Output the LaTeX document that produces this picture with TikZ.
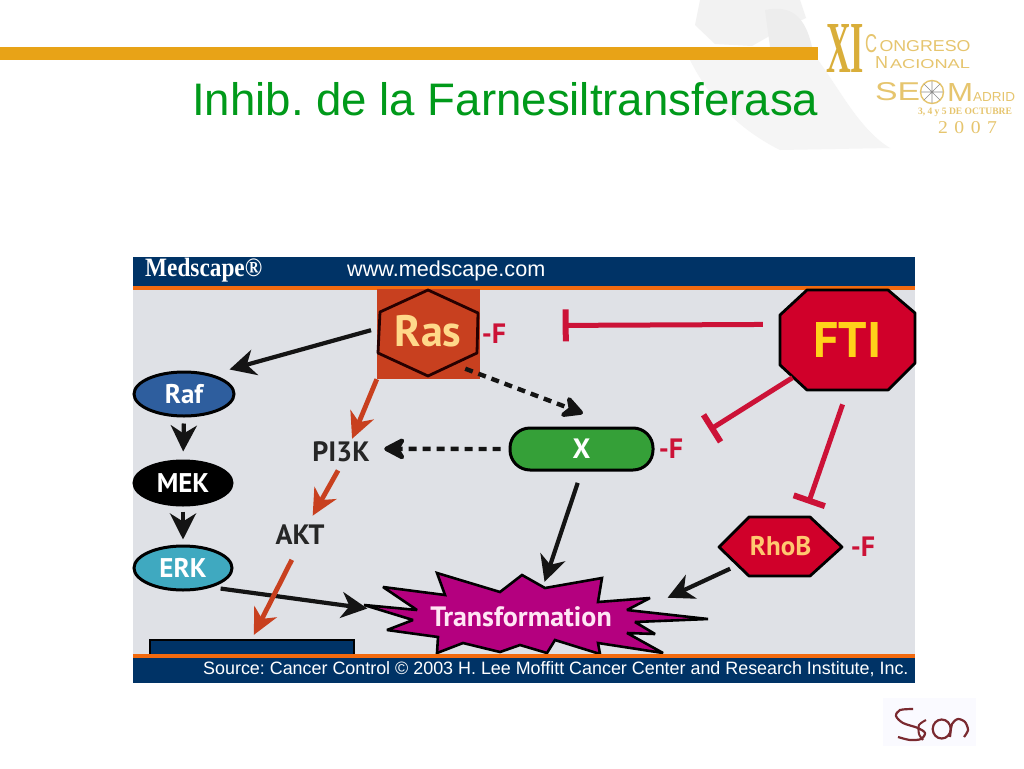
\documentclass[tikz,border=0pt]{standalone}
\usepackage{fontspec}
\usepackage{graphicx}
\setmainfont{Liberation Sans}
\newfontfamily\ptb{PT Sans}[BoldFont=* Bold]
\newfontfamily\serifb{Liberation Serif}
\usetikzlibrary{arrows.meta,shapes.geometric}
\definecolor{panelbg}{HTML}{DFE1E6}
\definecolor{navy}{HTML}{003366}
\definecolor{stripe}{HTML}{F26A0F}
\definecolor{rasred}{HTML}{C8401F}
\definecolor{inhred}{HTML}{CC1237}
\definecolor{stopred}{HTML}{D0002A}
\definecolor{rafblue}{HTML}{2E5E9E}
\definecolor{erkblue}{HTML}{3FA9C0}
\definecolor{xgreen}{HTML}{35A038}
\definecolor{magent}{HTML}{B4007F}
\definecolor{titlegreen}{HTML}{009A1A}
\definecolor{barorange}{HTML}{E8A317}
\definecolor{gold}{HTML}{E6C56E}
\definecolor{golddark}{HTML}{D9AE3A}
\definecolor{logored}{HTML}{7A2A30}
\definecolor{rastext}{HTML}{FFD98A}
\definecolor{rhotext}{HTML}{FFC870}
\definecolor{ftitext}{HTML}{FFD21A}
\definecolor{transtext}{HTML}{FFE6F4}
\newcommand{\fsz}[1]{\fontsize{#1}{#1}\selectfont}
\tikzset{
  lab/.style={inner sep=0pt,font=\ptb\bfseries\fsz{28}},
  ell/.style={ellipse,draw=black,line width=3pt,inner sep=0pt,minimum width=#1,minimum height=44pt,font=\ptb\bfseries\fsz{27},text=white},
  poly/.style={draw=black,line width=2.8pt,line join=round},
  blk/.style={draw=black!92,line width=4.2pt,-{Stealth[length=26pt,width=26pt,inset=8pt]}},
  blkdash/.style={draw=black!92,line width=4.4pt,dash pattern=on 8pt off 6pt,-{Stealth[length=26pt,width=27pt,inset=8pt,round]}},
  redarr/.style={draw=rasred,line width=4.8pt,-{Stealth[length=26pt,width=25pt,inset=8pt]}},
  inh/.style={draw=inhred,line width=5pt,-{Bar[width=#1,line width=6pt]}},
  minus/.style={inner sep=0pt,font=\ptb\bfseries\fsz{28},text=inhred},
}
\begin{document}
\begin{tikzpicture}[x=1pt,y=-1pt]
\frenchspacing
\useasboundingbox (0,0) rectangle (1024,768);
\fill[white] (0,0) rectangle (1024,768);
% faint header artwork
\fill[black!5] (700,0) -- (800,0) -- (806,18) -- (780,30) -- (752,46) -- (715,44) -- (695,25) -- cycle;
\fill[black!7] (765,10) .. controls (790,5) and (805,15) .. (812,47) -- (770,47) -- cycle;
\fill[black!4] (690,60) -- (818,60) .. controls (840,90) and (860,130) .. (890,148) -- (780,150) .. controls (740,130) and (710,100) .. cycle;
\fill[barorange] (0,47) rectangle (818,60);
\node[anchor=base west,inner sep=0pt,text=titlegreen,font=\fsz{45.6}] (title) at (192,115) {Inhib. de la Farnesiltransferasa};
% congress logo
\node[inner sep=0pt,text=golddark] (xi) at (845,48) {\resizebox{38pt}{48pt}{\serifb\bfseries XI}};
\node[inner sep=0pt,text=gold] (lc) at (871,44) {\resizebox{12pt}{18pt}{C}};
\node[inner sep=0pt,text=gold] (l1) at (925,46.5) {\resizebox{91pt}{11pt}{ONGRESO}};
\node[inner sep=0pt,text=gold] (ln) at (881.5,63) {\resizebox{13pt}{12pt}{N}};
\node[inner sep=0pt,text=gold] (l2) at (930,64.5) {\resizebox{80pt}{9pt}{ACIONAL}};
\node[inner sep=0pt,text=gold] (l3) at (897.5,92) {\resizebox{45pt}{18pt}{SE}};
\draw[gold,line width=1.4pt] (932,92) circle (11.5);
\draw[black!45,line width=.6pt] (921,92) -- (943,92) (932,81) -- (932,103) (924,84) -- (940,100) (924,100) -- (940,84);
\node[inner sep=0pt,text=gold] (l4) at (960,92) {\resizebox{26pt}{18pt}{M}};
\node[inner sep=0pt,text=gold] (l5) at (994,96.5) {\resizebox{42pt}{9pt}{ADRID}};
\node[inner sep=0pt,text=gold] (l6) at (965,112) {\resizebox{94pt}{6.5pt}{\serifb\bfseries 3, 4 y 5 DE OCTUBRE}};
\node[inner sep=0pt,text=gold] (l7) at (967.5,128) {\resizebox{59pt}{12pt}{\serifb 2\,\,0\,\,0\,\,7}};
% panel
\fill[panelbg] (133,257) rectangle (915,683);
\fill[navy] (133,257) rectangle (915,286);
\fill[stripe] (133,286) rectangle (915,289.5);
\node[inner sep=0pt,text=white,anchor=west] (med) at (145,270.5) {\resizebox*{117pt}{24pt}{\serifb\bfseries Medscape\textregistered}};
\node[inner sep=0pt,text=white,anchor=west,font=\fsz{21.6}] (www) at (347,271) {www.medscape.com};
% shapes
\node[fill=navy,draw=black,line width=2pt,minimum width=204pt,minimum height=15pt,inner sep=0pt] (boxn) at (252,647) {};
\node[fill=rasred,minimum width=103pt,minimum height=90pt,inner sep=0pt] (ras) at (428.5,334) {};
\draw[poly,fill=rasred,draw=black!85!red] (428,290) -- (478,313) -- (477,353) -- (428,376) -- (378,353) -- (380,312) -- cycle;
\node[lab,text=rastext,font=\ptb\bfseries\fsz{44}] (rastxt) at (428,331) {Ras};
\node[minus] (rasf) at (494,334) {-F};
\draw[poly,fill=stopred] (807,290) -- (888,290) -- (915,313) -- (915,363) -- (888,390) -- (807,390) -- (780,365) -- (780,315) -- cycle;
\node[minimum width=135pt,minimum height=100pt,inner sep=0pt,text=ftitext,font=\ptb\bfseries\fsz{50}] (fti) at (847.5,340) {\raisebox{-2.5pt}{FTI}};
\draw[poly,fill=stopred] (719,547) -- (749,517) -- (810,517) -- (842,547) -- (810,576) -- (749,576) -- cycle;
\node[minimum width=123pt,minimum height=59pt,inner sep=0pt,text=rhotext,font=\ptb\bfseries\fsz{27}] (rhob) at (780.5,546.5) {RhoB};
\node[minus] (rhobf) at (863,547) {-F};
\node[rectangle,draw=black,line width=3pt,fill=xgreen,rounded corners=20pt,minimum width=143pt,minimum height=42pt,inner sep=0pt,text=white,font=\ptb\bfseries\fsz{28}] (xn) at (581.5,449) {X};
\node[minus] (xf) at (671,449) {-F};
\node[ell=100pt,fill=rafblue] (raf) at (184,394) {Raf};
\node[ell=98pt,fill=black] (mek) at (183,483) {MEK};
\node[ell=98pt,fill=erkblue] (erk) at (183,568) {ERK};
\node[lab,minimum width=60pt,minimum height=26pt,text=black!85] (pi3k) at (341,452) {PI3K};
\node[lab,minimum width=50pt,minimum height=26pt,text=black!85] (akt) at (300,535) {AKT};
% star
\draw[poly,fill=magent,line width=2.6pt,line join=miter,miter limit=3] (364,605) -- (417,610) -- (383,587) -- (445,595) -- (437,573) -- (500,592) -- (522,575) -- (545,588) -- (602,578) -- (598,602) -- (650,598) -- (627,610) -- (708,619) -- (635,622) -- (655,634) -- (627,633) -- (663,653) -- (598,643) -- (600,654) -- (555,640) -- (547,653) -- (520,645) -- (500,652) -- (463,643) -- (437,653) -- (438,637) -- (387,630) -- (413,620) -- cycle;
\node[minimum width=182pt,minimum height=30pt,inner sep=0pt,text=transtext,font=\ptb\bfseries\fsz{28}] (trans) at (521,617) {Transformation};
% footer
\fill[stripe] (133,654) rectangle (915,657.5);
\fill[navy] (133,657.5) rectangle (915,683);
\node[inner sep=0pt,text=white,anchor=west,font=\fsz{17.9}] (src) at (203,669.5) {Source: Cancer Control © 2003 H. Lee Moffitt Cancer Center and Research Institute, Inc.};
% connectors
\draw[blk,shorten <=6pt,shorten >=18pt] (ras.174) -- (raf.35);
\draw[blk,shorten <=6pt,shorten >=8pt] (raf.south) -- (mek.north);
\draw[blk,shorten <=5pt,shorten >=5pt] (mek.south) -- (erk.north);
\draw[blk,shorten <=9pt,shorten >=63pt] (erk.-34) -- (trans.west);
\draw[redarr] (ras.south west) -- (pi3k.50);
\draw[blkdash,shorten <=8pt,shorten >=13pt] (xn.west) -- (pi3k.6);
\draw[blkdash,shorten <=-16pt,shorten >=37pt] (ras.-38) -- (xn.32);
\draw[blk,shorten <=12pt,shorten >=21pt] (xn.south) -- (trans.42);
\draw[blk,shorten <=-12.5pt,shorten >=61pt] (rhob.204) -- (trans.-4.4);
\draw[redarr,shorten <=6pt,shorten >=7pt] (pi3k.south) -- (akt.55);
\draw[redarr,shorten <=13pt,shorten >=4pt] (akt.-100) -- (boxn.north);
\draw[inh=32pt,shorten <=17pt,shorten >=82.5pt] (fti.167.47) -- (ras.9.91);
\draw[inh=32pt,shorten <=-15pt,shorten >=65pt] (fti.214) -- (xn.-12.6);
\draw[inh=33pt,shorten <=15pt,shorten >=14pt] (fti.south) -- (rhob.52);
% society logo
\fill[black!3!blue!2] (883,698) rectangle (976,746);
\draw[logored,line width=2.2pt] plot[smooth] coordinates {(913,709) (900,710) (896,716) (903,723) (918,728) (925,733) (921,739) (910,740) (898,737)};
\draw[logored,line width=2pt] plot[smooth] coordinates {(926,720) (919,725) (919,734) (923,740)};
\draw[logored,line width=2.2pt] (941.7,729) ellipse (9 and 9.5);
\draw[logored,line width=2.2pt] plot[smooth] coordinates {(950,737) (952,724) (958,719) (965,722) (968,730) (964,737)};
\end{tikzpicture}
\end{document}
